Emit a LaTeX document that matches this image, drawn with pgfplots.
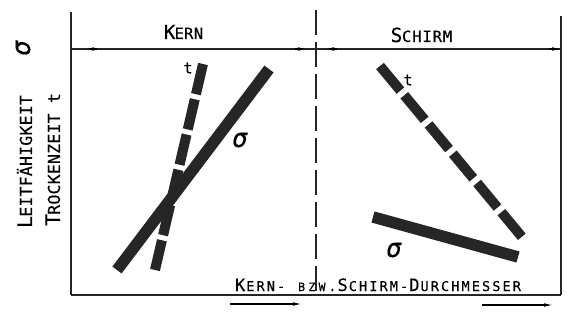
\documentclass[border=0pt]{standalone}
\usepackage{fontspec}
\setmainfont{DejaVu Sans Mono}[FakeBold=0.25]
\usepackage{pgfplots}
\pgfplotsset{compat=1.18}
\usetikzlibrary{arrows.meta}

\newlength\cw
\def\spx#1{\ifx#1\relax\else\makebox[\cw][c]{#1}\expandafter\spx\fi}
\newcommand\SP[2]{{#1\spx#2\relax}}
\newcommand\fs[1]{\fontsize{#1bp}{#1bp}\selectfont}
\tikzset{ah/.style={-{Latex[length=9bp,width=3.6bp]}, line width=1.1bp}}

\begin{document}
\begin{tikzpicture}
\begin{axis}[
  scale only axis, width=490bp, height=283bp,
  xmin=71, xmax=561, ymin=0, ymax=283,
  axis x line=bottom, axis y line=left,
  axis line style={-, line width=1.4bp, black!85},
  ticks=none, clip=false]

% invisible frame of the whole picture
\path (axis cs:0,-21) rectangle (axis cs:568,295);

% schematic curves
\addplot[line width=10bp, black!85, line cap=butt, dash pattern=on 31bp off 5.2bp] coordinates {(203,231) (155,25)};
\addplot[line width=11.5bp, black!85, line cap=butt] coordinates {(117,25) (269,226)};
\addplot[line width=10bp, black!85, line cap=butt, dash pattern=on 32bp off 6bp] coordinates {(380,229) (522,58)};
\addplot[line width=11.5bp, black!85, line cap=butt] coordinates {(373,78) (518,38)};

% frame parts
\draw[line width=1.4bp, black!85] (axis cs:561,0) -- (axis cs:561,279);
\draw[line width=1.2bp, black!85, dash pattern=on 25bp off 7bp] (axis cs:316,285) -- (axis cs:316,0);
\draw[line width=1.1bp, black!85] (axis cs:71,246) -- (axis cs:561,246);
\draw[ah] (axis cs:97,246) -- (axis cs:85,246);
\draw[ah] (axis cs:295,246) -- (axis cs:307,246);
\draw[ah] (axis cs:337,246) -- (axis cs:325,246);
\draw[ah] (axis cs:549,246) -- (axis cs:561,246);
\draw[ah] (axis cs:230,-9) -- (axis cs:302,-9);
\draw[ah] (axis cs:482,-10) -- (axis cs:553,-10);

% labels
\node[anchor=base, inner sep=0] at (axis cs:184,256) {\setlength\cw{9.6bp}\SP{\fs{19.5}}{K}\SP{\fs{15.5}}{ERN}};
\node[anchor=base, inner sep=0] at (axis cs:422,253) {\setlength\cw{10.2bp}\SP{\fs{19.5}}{S}\SP{\fs{15.5}}{CHIRM}};
\node[anchor=base, inner sep=0] at (axis cs:378.5,4) {\setlength\cw{10.25bp}\SP{\fs{17}}{K}\SP{\fs{13.5}}{ERN-}\hspace{\cw}\SP{\fs{11.5}}{BZW}\SP{\fs{13.5}}{.}\SP{\fs{17}}{S}\SP{\fs{13.5}}{CHIRM-}\SP{\fs{17}}{D}\SP{\fs{13.5}}{URCHMESSER}};
\node[anchor=base, inner sep=0, rotate=90] at (axis cs:32,134) {\setlength\cw{10.15bp}\SP{\fs{20}}{L}\SP{\fs{16.5}}{EITFÄHIGKEIT}};
\node[anchor=base, inner sep=0, rotate=90] at (axis cs:60,136) {\setlength\cw{10.15bp}\SP{\fs{20}}{T}\SP{\fs{16.5}}{ROCKENZEIT}\hspace{\cw}\SP{\fs{16.5}}{t}};
\node[inner sep=0, rotate=90] at (axis cs:23,247) {\fs{26}\itshape σ};
\node[inner sep=0] at (axis cs:188,227) {\fs{15}t};
\node[inner sep=0] at (axis cs:408,215) {\fs{15}t};
\node[inner sep=0] at (axis cs:240,155) {\fs{26}\itshape σ};
\node[inner sep=0] at (axis cs:394,45) {\fs{26}\itshape σ};
\end{axis}
\end{tikzpicture}
\end{document}
